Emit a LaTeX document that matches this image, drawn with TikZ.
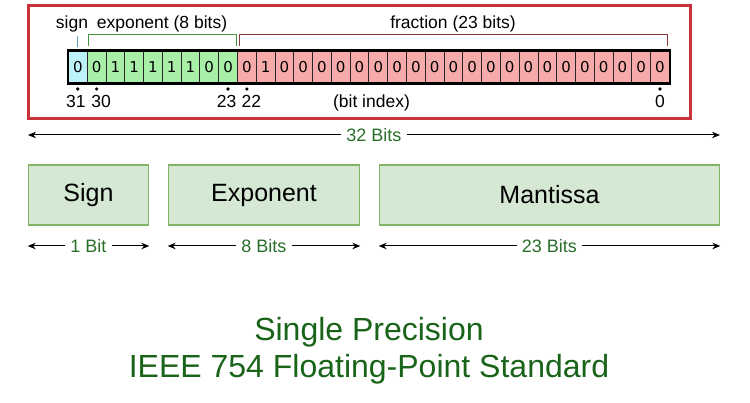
\documentclass[tikz,border=0pt]{standalone}
\usepackage{fontspec}
\setmainfont{Liberation Sans}
\newfontfamily\cellfont{DejaVu Sans}
\usetikzlibrary{arrows.meta, positioning}
\definecolor{Frame}{RGB}{200, 50, 58}
\definecolor{SignBlue}{RGB}{190, 242, 250}
\definecolor{ExpGreen}{RGB}{168, 240, 168}
\definecolor{FracRed}{RGB}{246, 170, 170}
\definecolor{SignTick}{RGB}{100, 155, 180}
\definecolor{ExpTick}{RGB}{70, 150, 70}
\definecolor{FracTick}{RGB}{140, 60, 60}
\definecolor{BoxFill}{RGB}{213, 232, 212}
\definecolor{BoxLine}{RGB}{130, 179, 102}
\definecolor{LabelGreen}{RGB}{40, 110, 40}
\definecolor{TitleGreen}{RGB}{25, 100, 25}

\begin{document}
\begin{tikzpicture}[
        x=1pt, y=-1pt,
        cell/.style={
            rectangle,
            draw=black!85,
            line width=0.8pt,
            minimum width=18.78pt,
            minimum height=32pt,
            inner sep=0pt,
            anchor=west,
            font=\cellfont\fontsize{15}{15}\selectfont
        },
        field/.style={
            rectangle,
            draw=BoxLine,
            fill=BoxFill,
            line width=1.6pt,
            minimum height=60pt,
            font=\fontsize{25}{30}\selectfont
        },
        bitlabel/.style={
            text=LabelGreen,
            inner sep=5pt,
            font=\fontsize{18}{18}\selectfont
        },
        toplabel/.style={
            anchor=base,
            inner sep=0pt,
            font=\fontsize{17.5}{18}\selectfont
        },
        index/.style={
            anchor=base,
            inner sep=0pt,
            font=\fontsize{17.5}{18}\selectfont
        },
        dot/.style={
            circle,
            fill=black,
            inner sep=0pt,
            minimum size=3.6pt
        },
        dim/.style={
            -{Stealth[length=8pt, width=6.5pt]},
            line width=1pt
        }
    ]
        \useasboundingbox (0,0) rectangle (750,403);

        % Bit pattern of the example value
        \foreach \v [count=\i from 0] in {0,0,1,1,1,1,1,0,0,0,1,0,0,0,0,0,0,0,0,0,0,0,0,0,0,0,0,0,0,0,0,0} {
            \pgfmathtruncatemacro\b{31-\i}
            \ifnum\i=0 \def\cellcol{SignBlue}\else\ifnum\i<9 \def\cellcol{ExpGreen}\else\def\cellcol{FracRed}\fi\fi
            \node[cell, fill=\cellcol] (b\b) at ({68+\i*18.78},67) {\v};
        }
        \draw[line width=2.5pt] (b31.north west) rectangle (b0.south east);

        % Field brackets and their names
        \draw[SignTick, line width=1pt] (b31.north |- 0,36) -- (b31.north |- 0,47);
        \draw[ExpTick, line width=1pt] (88,46) -- (88,35) -- (236,35) -- (236,46);
        \draw[FracTick, line width=1pt] (239,46) -- (239,35) -- (667,35) -- (667,46);
        \node[toplabel] (signtxt) at (72,29) {sign};
        \node[toplabel] (exptxt) at (162,29) {exponent (8 bits)};
        \node[toplabel] (fractxt) at (453,29) {fraction (23 bits)};

        % Bit indices (numbers pushed apart where two stand side by side)
        \foreach \b/\dx in {31/-2, 30/4.5, 23/-1.5, 22/4.5, 0/0} {
            \node[dot] (d\b) at (b\b.center |- 0,89) {};
            \node[index, xshift=\dx pt] (n\b) at (b\b.center |- 0,108) {\b};
        }
        \node[index] (bitidx) at (371.5,108) {(bit index)};

        \draw[Frame, line width=3pt] (28,6) rectangle (690.5,119);

        % Total width
        \node[bitlabel] (all) at (374,135) {32 Bits};
        \coordinate (allL) at (28,135);
        \coordinate (allR) at (720,135);
        \draw[dim] (all) -- (allL);
        \draw[dim] (all) -- (allR);

        % Fields
        \node[field, minimum width=120pt] (sgn) at (88.5,195) {Sign};
        \node[field, minimum width=191pt] (exp) at (264,195) {Exponent};
        \node[field, minimum width=340pt] (man) at (549.5,195) {Mantissa};

        \node[bitlabel] (sgnbits) at (sgn.center |- 0,246) {1 Bit};
        \node[bitlabel] (expbits) at (exp.center |- 0,246) {8 Bits};
        \node[bitlabel] (manbits) at (man.center |- 0,246) {23 Bits};
        \foreach \f in {sgn,exp,man} {
            \draw[dim] (\f bits) -- (\f bits -| \f.west);
            \draw[dim] (\f bits) -- (\f bits -| \f.east);
        }

        \node[text=TitleGreen, align=center, font=\fontsize{32}{37}\selectfont] (title) at (369,351) {Single Precision\\IEEE 754 Floating-Point Standard};
    \end{tikzpicture}
\end{document}
